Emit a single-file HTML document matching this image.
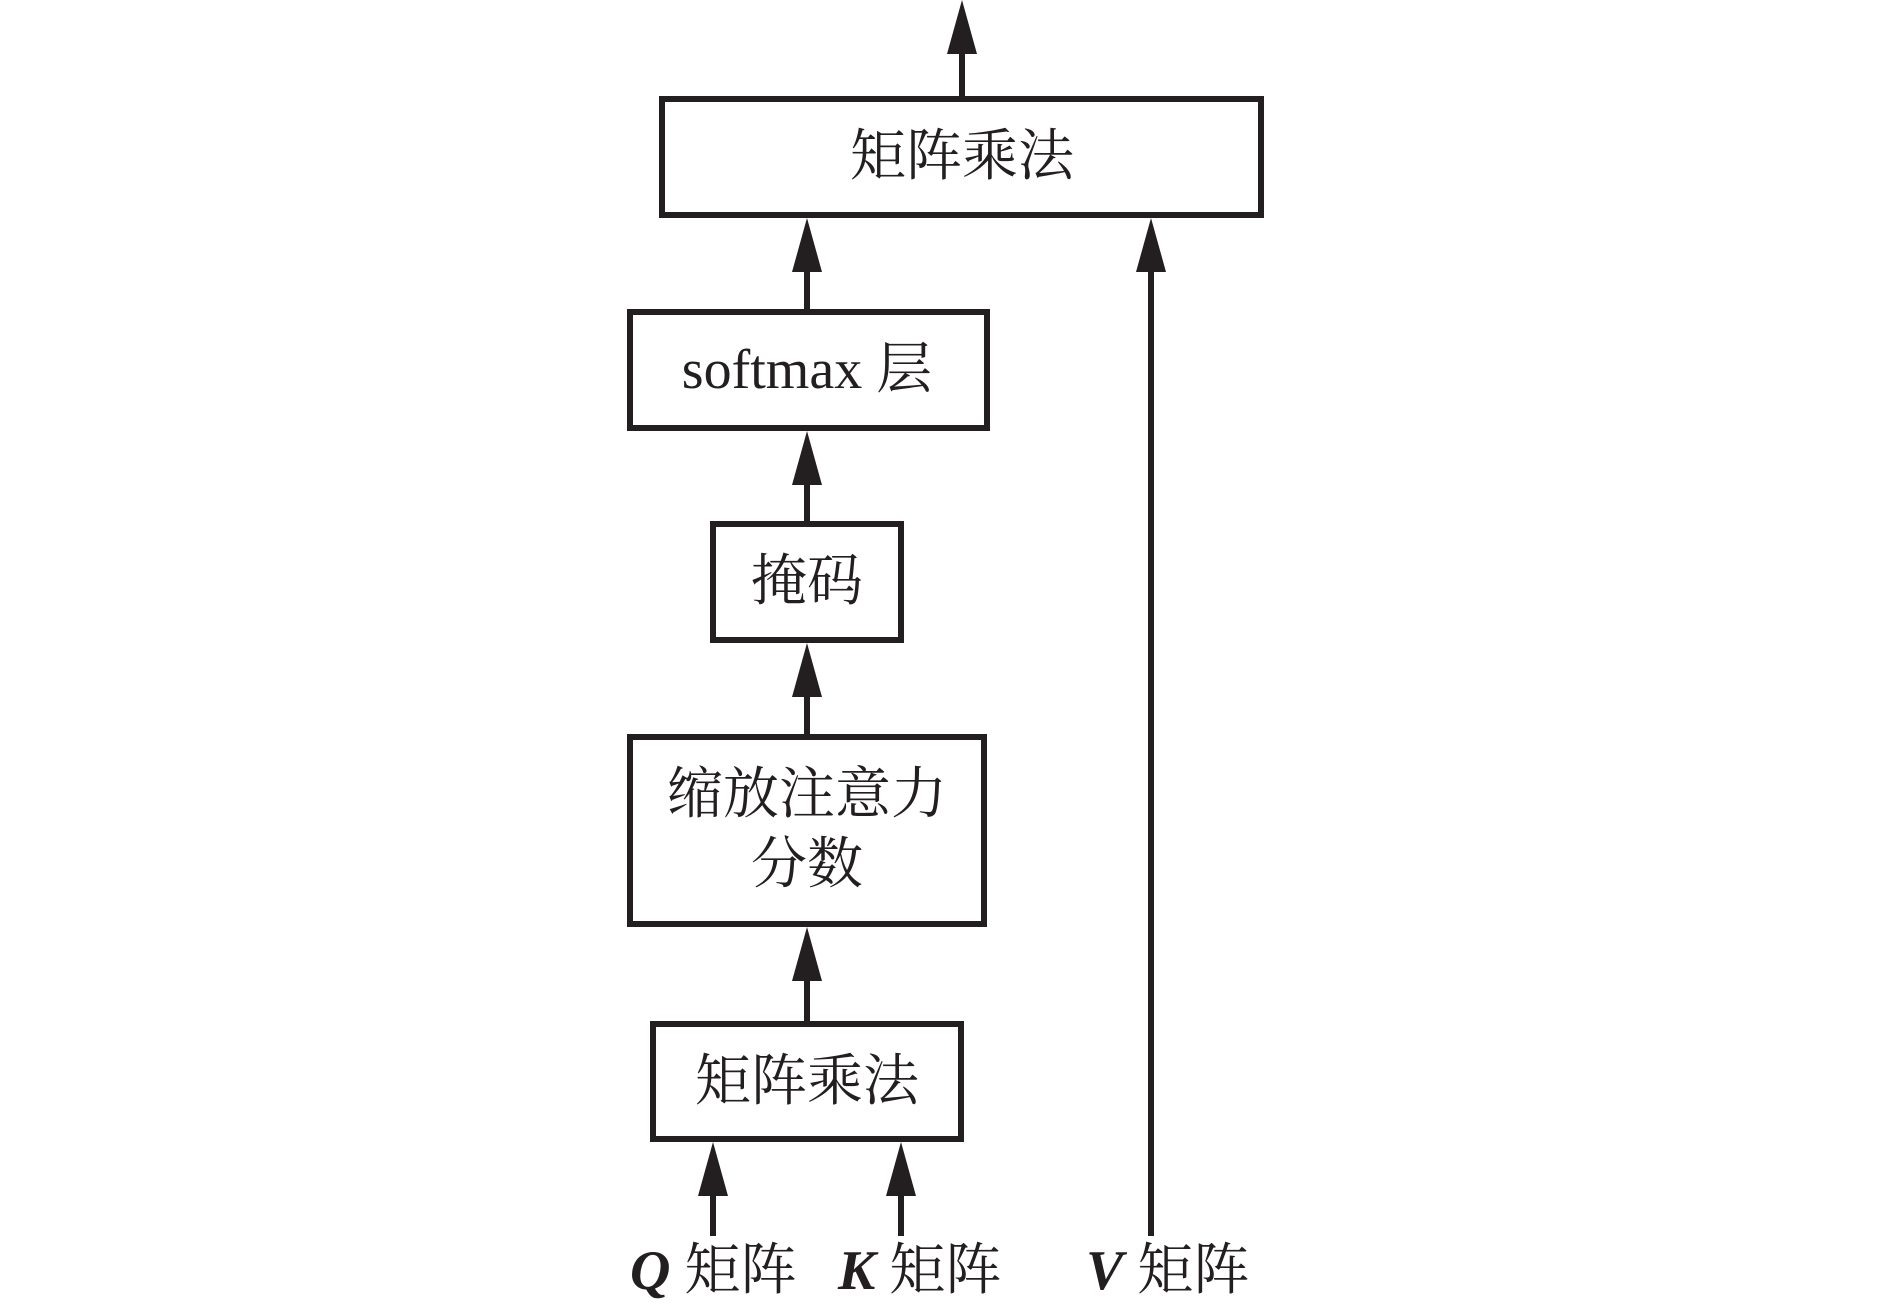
<!DOCTYPE html>
<html><head><meta charset="utf-8"><style>
html,body{margin:0;padding:0;background:#fff;}
svg{display:block;}
text{font-family:"Liberation Serif","Noto Serif CJK SC",serif;fill:#231f20;}
</style></head><body>
<svg width="1890" height="1307" viewBox="0 0 1890 1307">
<g fill="none" stroke="#231f20" stroke-width="6">
<rect x="662" y="99" width="599" height="116"/>
<rect x="630" y="312" width="357" height="116"/>
<rect x="713" y="524" width="188" height="116"/>
<rect x="630" y="737" width="354" height="187"/>
<rect x="653" y="1024" width="308" height="115"/>
<line x1="962" y1="97" x2="962" y2="40"/>
<line x1="807" y1="309" x2="807" y2="260"/>
<line x1="807" y1="521" x2="807" y2="475"/>
<line x1="807" y1="734" x2="807" y2="690"/>
<line x1="807" y1="1021" x2="807" y2="975"/>
<line x1="1151" y1="1236" x2="1151" y2="262"/>
<line x1="713" y1="1236" x2="713" y2="1190"/>
<line x1="901" y1="1236" x2="901" y2="1190"/>
</g>
<g fill="#231f20">
<polygon points="962,0 947,54 977,54"/>
<polygon points="807,218 792,272 822,272"/>
<polygon points="1151,218 1136,272 1166,272"/>
<polygon points="807,431 792,485 822,485"/>
<polygon points="807,643 792,697 822,697"/>
<polygon points="807,927 792,981 822,981"/>
<polygon points="713,1142 698,1196 728,1196"/>
<polygon points="901,1142 886,1196 916,1196"/>
</g>
<g font-size="56" text-anchor="middle">
<text x="962" y="175">矩阵乘法</text>
<text x="807" y="388">softmax 层</text>
<text x="807" y="600">掩码</text>
<text x="807" y="813">缩放注意力</text>
<text x="807" y="883">分数</text>
<text x="807" y="1100">矩阵乘法</text>
</g>
<g font-size="56">
<text x="630" y="1289"><tspan font-weight="bold" font-style="italic">Q</tspan> 矩阵</text>
<text x="838" y="1289"><tspan font-weight="bold" font-style="italic">K</tspan> 矩阵</text>
<text x="1086" y="1289"><tspan font-weight="bold" font-style="italic">V</tspan> 矩阵</text>
</g>
</svg>
</body></html>
